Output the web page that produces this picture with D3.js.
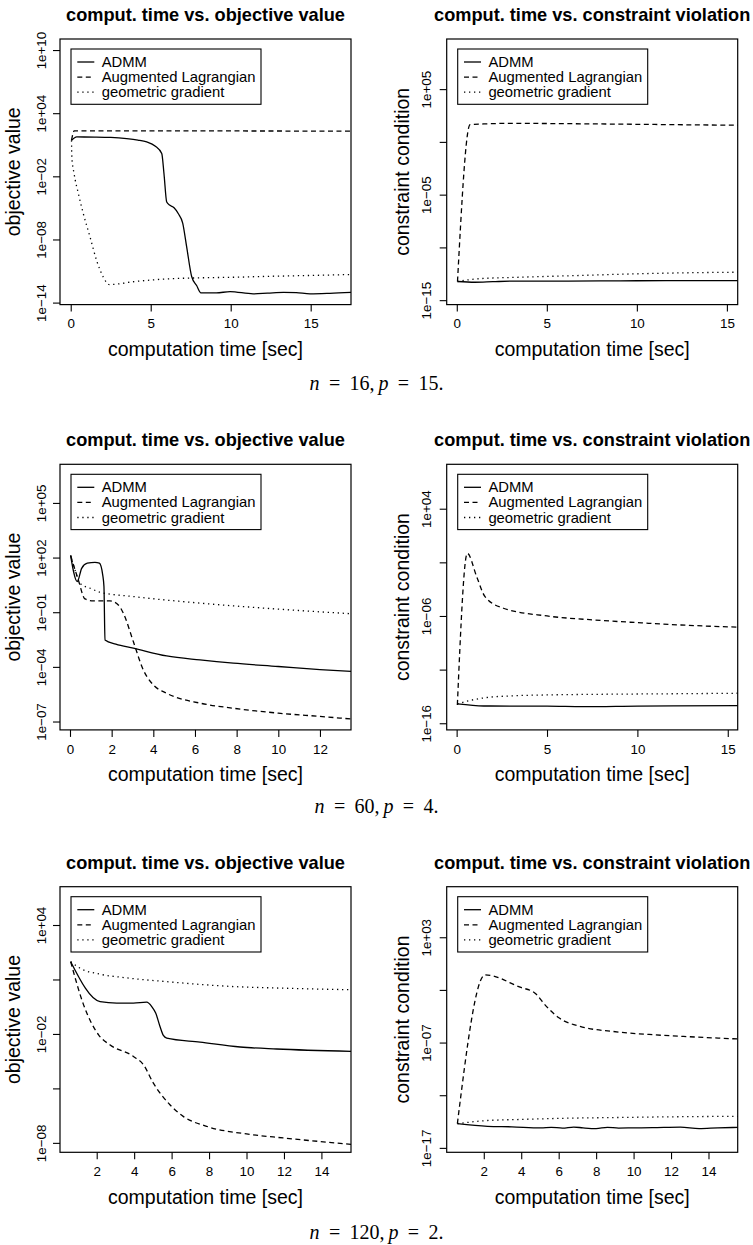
<!DOCTYPE html>
<html>
<head>
<meta charset="utf-8">
<script src="https://cdn.jsdelivr.net/npm/d3@7"></script>
<style>
  html, body { margin: 0; padding: 0; background: #fff; }
  svg { display: block; }
  text { font-family: "Liberation Sans", Arial, Helvetica, sans-serif; fill: #000; }
</style>
</head>
<body>
<svg id="fig" width="753" height="1245"></svg>
<script>
// ---- series names ----
const seriesNames = ["ADMM", "Augmented Lagrangian", "geometric gradient"];

// ---- values are stored as log10 of the plotted quantity ----

// n = 16, p = 15 : objective value
const obj16AdmmT  = [0.05, 0.27, 0.37, 1.5, 2.5, 3.5, 4.2, 4.75, 5.27, 5.69, 5.83, 6.0, 6.2, 6.46, 6.73, 7.0, 7.25, 7.56, 7.87, 8.14, 9.1, 9.96, 11.4, 12.3, 13.3, 14.1, 14.96, 16.2, 17.6];
const obj16AdmmV  = [1.43, 1.69, 1.74, 1.73, 1.70, 1.59, 1.45, 1.27, 0.89, 0.16, -1.75, -4.44, -4.75, -4.98, -5.56, -6.44, -8.73, -11.52, -12.38, -13.08, -13.08, -12.95, -13.17, -13.1, -13.02, -13.05, -13.17, -13.12, -13.02];
const obj16AugT   = [0.05, 0.22, 5, 10, 17.6];
const obj16AugV   = [1.43, 2.31, 2.31, 2.31, 2.29];
const obj16GeoT   = [0.05, 0.07, 0.21, 0.48, 0.79, 1.21, 1.62, 2.04, 2.41, 4.0, 6.0, 8.0, 10.2, 12.5, 15.0, 17.6];
const obj16GeoV   = [1.43, -0.16, -1.74, -3.65, -5.56, -7.78, -10.0, -11.59, -12.29, -12.0, -11.75, -11.65, -11.59, -11.5, -11.42, -11.33];

// n = 16, p = 15 : constraint condition
const con16AdmmT  = [0.04, 1, 2, 3, 5, 8, 10, 12, 15.7];
const con16AdmmV  = [-13.23, -13.3, -13.25, -13.2, -13.2, -13.18, -13.16, -13.15, -13.14];
const con16AugT   = [0.04, 0.74, 1.5, 3, 5, 8, 11, 14, 15.7];
const con16AugV   = [-13.23, 1.64, 1.70, 1.76, 1.74, 1.7, 1.65, 1.6, 1.58];
const con16GeoT   = [0.04, 1, 2, 3, 5, 7, 10, 13, 15.7];
const con16GeoV   = [-13.23, -13.0, -12.9, -12.85, -12.75, -12.65, -12.5, -12.4, -12.35];

// n = 60, p = 4 : objective value
const obj60AdmmT  = [0.03, 0.35, 0.56, 0.83, 1.2, 1.41, 1.57, 1.63, 1.68, 2.2, 3.04, 4.64, 6.24, 7.84, 10.0, 12.0, 13.6];
const obj60AdmmV  = [2.11, 0.68, 1.41, 1.69, 1.74, 1.69, 1.05, 0.41, -2.52, -2.75, -2.97, -3.40, -3.62, -3.80, -3.98, -4.15, -4.26];
const obj60AugT   = [0.03, 0.4, 0.72, 1.12, 1.92, 2.32, 2.56, 3.04, 3.52, 4.0, 4.64, 6.24, 7.84, 10.0, 12.0, 13.6];
const obj60AugV   = [2.11, 0.77, -0.27, -0.38, -0.38, -0.6, -1.05, -2.61, -4.17, -4.99, -5.45, -5.99, -6.27, -6.54, -6.72, -6.87];
const obj60GeoT   = [0.03, 0.24, 0.48, 1.0, 1.44, 3.04, 6.24, 10.0, 13.6];
const obj60GeoV   = [2.11, 1.32, 0.59, 0.3, 0.10, -0.14, -0.5, -0.83, -1.09];

// n = 60, p = 4 : constraint condition
const con60AdmmT  = [0.04, 1.5, 3, 5, 7, 10, 12, 15.7];
const con60AdmmV  = [-14.2, -14.39, -14.4, -14.4, -14.45, -14.4, -14.38, -14.36];
const con60AugT   = [0.04, 0.59, 1.11, 1.57, 2.59, 5.0, 7.59, 10.0, 12.4, 15.7];
const con60AugV   = [-14.29, -0.16, -2.34, -4.2, -5.28, -6.0, -6.37, -6.62, -6.84, -7.05];
const con60GeoT   = [0.04, 0.8, 1.67, 3, 5, 8, 12, 15.7];
const con60GeoV   = [-14.2, -13.85, -13.6, -13.45, -13.36, -13.3, -13.25, -13.2];

// n = 120, p = 2 : objective value
const obj120AdmmT = [0.61, 2.18, 3.07, 3.96, 4.67, 4.94, 5.15, 5.38, 5.56, 5.74, 7.52, 9.66, 11.61, 15.7];
const obj120AdmmV = [1.98, -0.22, -0.30, -0.30, -0.25, -0.49, -0.85, -1.59, -2.08, -2.23, -2.45, -2.72, -2.83, -2.96];
const obj120AugT  = [0.61, 1.3, 2.1, 2.7, 3.96, 4.5, 5.02, 5.91, 6.62, 7.87, 10.0, 11.96, 15.7];
const obj120AugV  = [1.98, -0.4, -2.05, -2.6, -3.24, -3.70, -4.70, -5.9, -6.54, -7.09, -7.51, -7.73, -8.09];
const obj120GeoT  = [0.61, 1.11, 2.18, 3.5, 5.74, 9.3, 12.0, 15.7];
const obj120GeoV  = [1.98, 1.62, 1.29, 1.1, 0.88, 0.61, 0.52, 0.43];

// n = 120, p = 2 : constraint condition
const con120AdmmT = [0.59, 2.2, 3.5, 5.05, 5.6, 6.2, 6.8, 7.3, 8.0, 8.6, 9.2, 10.0, 11.0, 12.5, 13.5, 14.5, 15.7];
const con120AdmmV = [-14.7, -14.95, -15.0, -15.1, -15.05, -15.12, -15.02, -15.1, -15.17, -15.05, -15.12, -15.1, -15.08, -15.02, -15.17, -15.1, -15.05];
const con120AugT  = [0.59, 2.07, 3.94, 4.74, 5.27, 5.99, 7.14, 8.92, 11.06, 13.38, 15.7];
const con120AugV  = [-14.7, -0.57, -1.74, -2.31, -3.42, -4.62, -5.47, -5.95, -6.26, -6.48, -6.67];
const con120GeoT  = [0.59, 2.2, 4, 6, 9, 12, 15.7];
const con120GeoV  = [-14.7, -14.4, -14.3, -14.2, -14.12, -14.05, -14.0];

// ---- axis ticks ----
const obj16XTicks = [0, 5, 10, 15];
const obj16YTicks = [10, 4, -2, -8, -14];
const obj16YLabels = [10, 4, -2, -8, -14];
const con16XTicks = [0, 5, 10, 15];
const con16YTicks = [5, 0, -5, -10, -15];
const con16YLabels = [5, -5, -15];
const obj60XTicks = [0, 2, 4, 6, 8, 10, 12];
const obj60YTicks = [5, 2, -1, -4, -7];
const obj60YLabels = [5, 2, -1, -4, -7];
const con60XTicks = [0, 5, 10, 15];
const con60YTicks = [4, -1, -6, -11, -16];
const con60YLabels = [4, -6, -16];
const obj120XTicks = [2, 4, 6, 8, 10, 12, 14];
const obj120YTicks = [4, 1, -2, -5, -8];
const obj120YLabels = [4, -2, -8];
const con120XTicks = [2, 4, 6, 8, 10, 12, 14];
const con120YTicks = [3, -2, -7, -12, -17];
const con120YLabels = [3, -7, -17];

// ---- titles and captions ----
const titleObj = "comput. time vs. objective value";
const titleCon = "comput. time vs. constraint violation";
const xTitle = "computation time [sec]";
const yTitleObj = "objective value";
const yTitleCon = "constraint condition";
const captions = [
  [["n", true], [" = 16,\u2009", false], ["p", true], [" = 15.", false]],
  [["n", true], [" = 60,\u2009", false], ["p", true], [" = 4.", false]],
  [["n", true], [" = 120,\u2009", false], ["p", true], [" = 2.", false]]
];

// ---- layout ----
const rowTops = [39, 464.3, 886.7];
const boxH = 265.6;
const colLeft = [60, 446.7];
const boxW = 291;

const panels = [
  { row: 0, col: 0, title: titleObj, yTitle: yTitleObj, xDom: [-0.67, 17.52], yDom: [-14.19, 11.05],
    xTicks: obj16XTicks, yTicks: obj16YTicks, yLabels: obj16YLabels,
    series: [[obj16AdmmT, obj16AdmmV], [obj16AugT, obj16AugV], [obj16GeoT, obj16GeoV]] },
  { row: 0, col: 1, title: titleCon, yTitle: yTitleCon, xDom: [-0.56, 15.6], yDom: [-15.42, 9.75],
    xTicks: con16XTicks, yTicks: con16YTicks, yLabels: con16YLabels,
    series: [[con16AdmmT, con16AdmmV], [con16AugT, con16AugV], [con16GeoT, con16GeoV]] },
  { row: 1, col: 0, title: titleObj, yTitle: yTitleObj, xDom: [-0.48, 13.49], yDom: [-7.46, 7.12],
    xTicks: obj60XTicks, yTicks: obj60YTicks, yLabels: obj60YLabels,
    series: [[obj60AdmmT, obj60AdmmV], [obj60AugT, obj60AugV], [obj60GeoT, obj60GeoV]] },
  { row: 1, col: 1, title: titleCon, yTitle: yTitleCon, xDom: [-0.55, 15.55], yDom: [-16.62, 8.14],
    xTicks: con60XTicks, yTicks: con60YTicks, yLabels: con60YLabels,
    series: [[con60AdmmT, con60AdmmV], [con60AugT, con60AugV], [con60GeoT, con60GeoV]] },
  { row: 2, col: 0, title: titleObj, yTitle: yTitleObj, xDom: [0.04, 15.58], yDom: [-8.52, 6.11],
    xTicks: obj120XTicks, yTicks: obj120YTicks, yLabels: obj120YLabels,
    series: [[obj120AdmmT, obj120AdmmV], [obj120AugT, obj120AugV], [obj120GeoT, obj120GeoV]] },
  { row: 2, col: 1, title: titleCon, yTitle: yTitleCon, xDom: [0.02, 15.56], yDom: [-17.42, 7.8],
    xTicks: con120XTicks, yTicks: con120YTicks, yLabels: con120YLabels,
    series: [[con120AdmmT, con120AdmmV], [con120AugT, con120AugV], [con120GeoT, con120GeoV]] }
];

const dashes = [null, "5,3.5", "1.3,3.7"];
const lineW = 1.3;
const tickFont = "13.4px";

function expLabel(e) {
  return "1e" + (e < 0 ? "\u2212" : "+") + String(Math.abs(e)).padStart(2, "0");
}

const svg = d3.select("#fig");
svg.append("rect").attr("width", 753).attr("height", 1245).attr("fill", "#fff");

panels.forEach((p, i) => {
  const left = colLeft[p.col], right = left + boxW;
  const top = rowTops[p.row], bottom = top + boxH;
  const cx = (left + right) / 2, cy = (top + bottom) / 2;

  const x = d3.scaleLinear().domain(p.xDom).range([left, right]);
  const y = d3.scaleLog().domain([Math.pow(10, p.yDom[0]), Math.pow(10, p.yDom[1])]).range([bottom, top]);

  const g = svg.append("g");
  const clipId = "clip" + i;
  g.append("clipPath").attr("id", clipId)
    .append("rect").attr("x", left).attr("y", top).attr("width", boxW).attr("height", boxH);

  // series lines
  const line = d3.line().x(d => x(d[0])).y(d => y(Math.pow(10, d[1]))).curve(d3.curveMonotoneX);
  p.series.forEach((s, k) => {
    const pts = s[0].map((t, j) => [t, s[1][j]]);
    g.append("path").attr("d", line(pts)).attr("fill", "none")
      .attr("stroke", "#000").attr("stroke-width", lineW)
      .attr("stroke-dasharray", dashes[k])
      .attr("clip-path", `url(#${clipId})`);
  });

  // bottom axis
  const xAxis = g.append("g").attr("transform", `translate(0,${bottom})`)
    .call(d3.axisBottom(x).tickValues(p.xTicks).tickSize(7).tickFormat(d3.format("d")));
  xAxis.select(".domain").remove();
  xAxis.selectAll(".tick line").attr("stroke", "#000").attr("stroke-width", 1.1);
  xAxis.selectAll(".tick text").attr("y", 19).attr("dy", "0.35em")
    .style("font-size", tickFont).style("font-family", "Liberation Sans, Arial, sans-serif");

  // left axis, log ticks
  const yAxis = g.append("g").attr("transform", `translate(${left},0)`)
    .call(d3.axisLeft(y).tickValues(p.yTicks.map(e => Math.pow(10, e))).tickSize(7)
      .tickFormat(v => {
        const e = Math.round(Math.log10(v));
        return p.yLabels.includes(e) ? expLabel(e) : "";
      }));
  yAxis.select(".domain").remove();
  yAxis.selectAll(".tick line").attr("stroke", "#000").attr("stroke-width", 1.1);
  const yLabOff = p.col === 0 ? 18.3 : 20;
  yAxis.selectAll(".tick text")
    .attr("x", null).attr("dy", null)
    .attr("transform", `translate(${-yLabOff},0) rotate(-90)`)
    .attr("text-anchor", "middle").attr("dominant-baseline", "central")
    .style("font-size", tickFont).style("font-family", "Liberation Sans, Arial, sans-serif");

  // frame
  g.append("rect").attr("x", left).attr("y", top).attr("width", boxW).attr("height", boxH)
    .attr("fill", "none").attr("stroke", "#000").attr("stroke-width", 1.2);

  // titles
  g.append("text").attr("x", cx).attr("y", top - 24).attr("text-anchor", "middle")
    .attr("dominant-baseline", "central").style("font-size", "18.2px").style("font-weight", "bold")
    .text(p.title);
  g.append("text").attr("x", cx).attr("y", bottom + 44.5).attr("text-anchor", "middle")
    .attr("dominant-baseline", "central").style("font-size", "19.5px").text(xTitle);
  const yTitleX = left - (p.col === 0 ? 47 : 45);
  g.append("text").attr("transform", `translate(${yTitleX},${cy}) rotate(-90)`)
    .attr("text-anchor", "middle").attr("dominant-baseline", "central")
    .style("font-size", "19.5px").text(p.yTitle);

  // legend
  const lx = left + 11, ly = top + 10;
  const lg = g.append("g");
  lg.append("rect").attr("x", lx).attr("y", ly).attr("width", 190).attr("height", 55.3)
    .attr("fill", "#fff").attr("stroke", "#000").attr("stroke-width", 1.1);
  seriesNames.forEach((name, k) => {
    const ry = ly + 13 + k * 15.1;
    lg.append("line").attr("x1", lx + 6.3).attr("x2", lx + 23.3).attr("y1", ry).attr("y2", ry)
      .attr("stroke", "#000").attr("stroke-width", lineW).attr("stroke-dasharray", dashes[k]);
    lg.append("text").attr("x", lx + 30.7).attr("y", ry).attr("dominant-baseline", "central")
      .style("font-size", "14.8px").text(name);
  });
});

// captions under each row
const capY = [383, 806, 1232];
captions.forEach((parts, r) => {
  const t = svg.append("text").attr("x", 376.5).attr("y", capY[r]).attr("text-anchor", "middle")
    .attr("dominant-baseline", "central")
    .style("font-family", "'Liberation Serif', 'DejaVu Serif', serif").style("font-size", "20px")
    .style("word-spacing", "4.3px")
    .attr("xml:space", "preserve").style("white-space", "pre");
  parts.forEach(([s, it]) => {
    t.append("tspan").style("font-style", it ? "italic" : "normal")
      .style("font-family", "'Liberation Serif', serif").text(s);
  });
});
</script>
</body>
</html>
